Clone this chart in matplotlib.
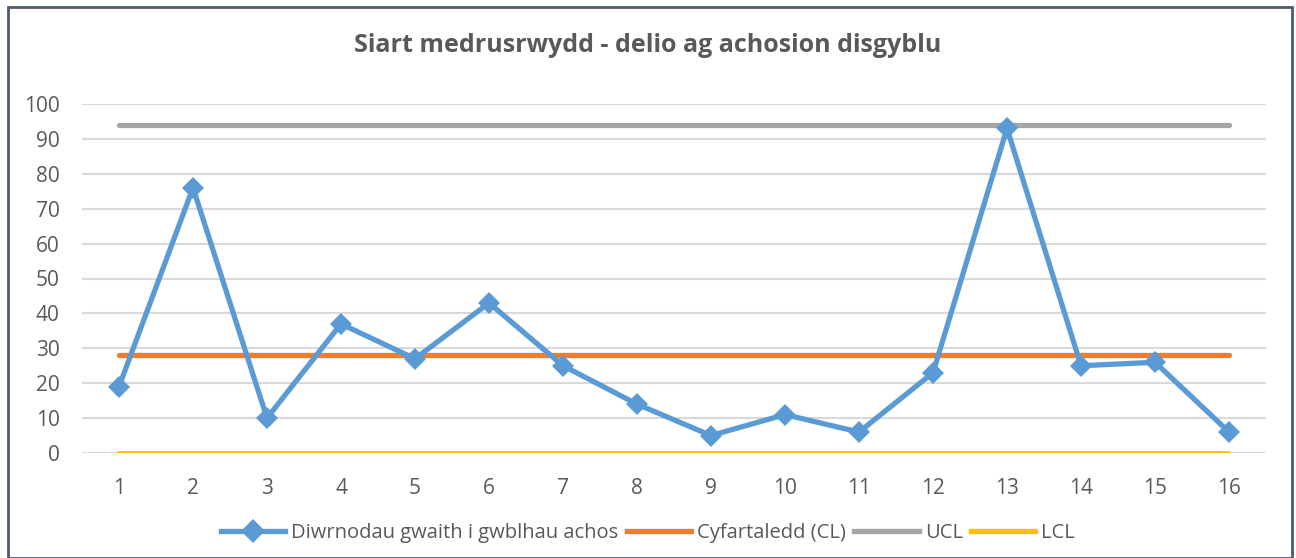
import matplotlib
matplotlib.use("Agg")
import matplotlib.pyplot as plt
from matplotlib.patches import Rectangle
from matplotlib.lines import Line2D

categories = list(range(1, 17))
days = [19, 76, 10, 37, 27, 43, 25, 14, 5, 11, 6, 23, 93, 25, 26, 6]
cl = [28] * 16
ucl = [94] * 16
lcl = [0] * 16
title = "Siart medrusrwydd - delio ag achosion disgyblu"
labels = ["Diwrnodau gwaith i gwblhau achos", "Cyfartaledd (CL)", "UCL", "LCL"]

plt.rcParams['font.family'] = ['Open Sans', 'DejaVu Sans']
fig = plt.figure(figsize=(12.96, 5.58), dpi=100)
W, H = 1296, 558
ax = fig.add_axes([82 / W, 1 - 453 / H, (1266 - 82) / W, (453 - 104) / H])

ax.plot(categories, ucl, color="#A5A5A5", lw=3.8, solid_capstyle="round", zorder=2)
ax.plot(categories, cl, color="#ED7D31", lw=3.8, solid_capstyle="round", zorder=2)
ax.plot(categories, lcl, color="#FFC000", lw=2.8, solid_capstyle="round", zorder=2)
ax.plot(categories, days, color="#5B9BD5", lw=3.8, marker="D", markersize=11,
        markeredgewidth=0, zorder=3)

ax.set_xlim(0.5, 16.5)
ax.set_ylim(0, 100)
ax.set_yticks(range(0, 101, 10))
ax.set_xticks(categories)
ax.grid(axis="y", color="#D9D9D9", lw=1.5, zorder=0)
ax.set_axisbelow(True)
for s in ax.spines.values():
    s.set_visible(False)
ax.tick_params(length=0, labelsize=15, colors="#595959")
ax.tick_params(axis="x", pad=18)
ax.tick_params(axis="y", pad=16)

fig.text(0.5, 1 - 45 / H, title, ha="center", va="center", fontsize=18,
         fontweight="bold", color="#595959")

handles = [
    Line2D([], [], color="#5B9BD5", lw=3.8, marker="D", markersize=12, markeredgewidth=0),
    Line2D([], [], color="#ED7D31", lw=3.8),
    Line2D([], [], color="#A5A5A5", lw=3.8),
    Line2D([], [], color="#FFC000", lw=3.8),
]
fig.legend(handles, labels, loc="center", bbox_to_anchor=(0.5, 1 - 533 / H), ncol=4,
           frameon=False, fontsize=14.5, labelcolor="#595959", handlelength=3.2,
           columnspacing=0.4, handletextpad=0.3)

fig.patches.append(Rectangle((8 / W, 0), (1292 - 8) / W, 1 - 7 / H, transform=fig.transFigure,
                             fill=False, edgecolor="#4F5B6E", lw=2))

fig.savefig("out.png", dpi=100, facecolor="white")
